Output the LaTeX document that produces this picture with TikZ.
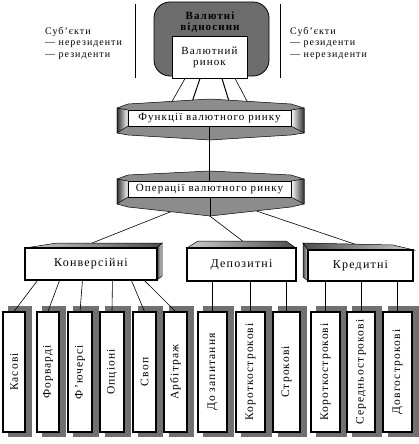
\documentclass[tikz,border=0pt]{standalone}
\usepackage{fontspec}
\setmainfont[LetterSpace=10]{Liberation Serif}
\usetikzlibrary{positioning,backgrounds}

\definecolor{panelgray}{RGB}{108,108,108}
\definecolor{shadowgray}{RGB}{112,112,112}
\definecolor{facegray}{RGB}{140,140,140}

\tikzset{
	whitebox/.style={draw=black, line width=1pt, fill=white, inner sep=0pt, align=center, font=\fontsize{11}{11}\selectfont},
	levelbox/.style={draw=black, line width=1.1pt, fill=white, inner sep=0pt, font=\fontsize{12}{12}\selectfont},
	leaf/.style={draw=black, line width=1.1pt, fill=white, inner sep=0pt, minimum height=120pt, font=\fontsize{11.5}{11.5}\selectfont},
	face/.style={fill=facegray, draw=black, line width=0.5pt},
	link/.style={draw=black, line width=0.6pt},
	sidetext/.style={anchor=north west, align=left, inner sep=0pt, font=\fontsize{10}{11.5}\selectfont}
}

\begin{document}
\begin{tikzpicture}[x=1pt,y=1pt,yscale=-1,xscale=1]
	\useasboundingbox (0,0) rectangle (418,444);

	%%TOP---------------------------------------------
	%%separators
	\draw [line width=0.8pt] (135,4) -- (135,78);
	\draw [line width=0.8pt] (280,4) -- (280,78);

	%%gray panel
	\draw [fill=panelgray, draw=black, line width=0.8pt, rounded corners=16pt] (154,2) rectangle (269,76);
	\node [align=center, inner sep=0pt, font=\bfseries\fontsize{11}{10.5}\selectfont] (vidnos) at (210,22) {Валютні\\відносини};
	\node [whitebox, minimum width=75pt, minimum height=41pt] (rynok) at (209.5,57.5) {Валютний\\ринок};

	% Text Node
	\node [sidetext] (subleft) at (45,27) {Суб’єкти\\— нерезиденти\\— резиденти};
	% Text Node
	\node [sidetext] (subright) at (290,27) {Суб’єкти\\— резиденти\\— нерезиденти};

	%%FUNCTIONS pillow---------------------------------
	\draw [face] (117,108) -- (128,104) -- (210,99) -- (291,104) -- (304,108) -- (304,133) -- (291,135) -- (210,140) -- (128,135) -- (117,133) -- cycle;
	\draw [left color=black!80, right color=white, draw=black, line width=0.5pt] (117,108) -- (128,110) -- (128,126) -- (117,133) -- cycle;
	\draw [left color=white, right color=black!80, draw=black, line width=0.5pt] (291,110) -- (304,108) -- (304,133) -- (291,126) -- cycle;
	\node [whitebox, minimum width=163pt, minimum height=16pt] (funk) at (209.5,118) {Функції валютного ринку};

	%%OPERATIONS pillow--------------------------------
	\draw [face] (117,179) -- (128,175) -- (210,171) -- (291,175) -- (304,179) -- (304,204) -- (291,207) -- (210,216) -- (128,207) -- (117,204) -- cycle;
	\draw [left color=black!80, right color=white, draw=black, line width=0.5pt] (117,179) -- (128,181) -- (128,197) -- (117,204) -- cycle;
	\draw [left color=white, right color=black!80, draw=black, line width=0.5pt] (291,181) -- (304,179) -- (304,204) -- (291,197) -- cycle;
	\draw [line width=0.6pt] (210,197) -- (210,216);
	\node [whitebox, minimum width=163pt, minimum height=16pt] (oper) at (209.5,189) {Операції валютного ринку};

	\draw [link, line width=1.3pt] (funk.south) -- (oper.north);

	%%LEVEL 3 boxes------------------------------------
	%top face
	\draw [left color=gray!40, right color=black!70, draw=black, line width=0.5pt] (25,248) -- (57,243) -- (162,243) -- (157,248) -- cycle;
	%right face
	\draw [left color=black!70, right color=gray!30, draw=black, line width=0.5pt] (157,248) -- (162,243) -- (162,276) -- (157,280) -- cycle;
	\node [levelbox, minimum width=132pt, minimum height=32pt] (konv) at (91,264) {Конверсійні};

	%top face
	\draw [left color=gray!40, right color=black!70, draw=black, line width=0.5pt] (187,248) -- (198,241) -- (286,241) -- (296,248) -- cycle;
	\node [levelbox, minimum width=109pt, minimum height=33pt] (depoz) at (241.5,264.5) {Депозитні};

	%left face
	\draw [left color=black!70, right color=gray!30, draw=black, line width=0.5pt] (308,250) -- (303,243) -- (303,277) -- (308,281) -- cycle;
	%top face
	\draw [left color=black!70, right color=gray!40, draw=black, line width=0.5pt] (303,243) -- (393,245) -- (414,250) -- (308,250) -- cycle;
	\node [levelbox, minimum width=105pt, minimum height=31pt] (kred) at (360.5,265.5) {Кредитні};

	%%links behind the shapes
	\begin{scope}[on background layer]
		\draw [link] ([xshift=-24.5pt]rynok.south) -- ([xshift=-42pt]funk.north);
		\draw [link, line width=1pt] ([xshift=-9.5pt]rynok.south) -- ([xshift=-20pt]funk.north);
		\draw [link, line width=1pt] ([xshift=12.5pt]rynok.south) -- ([xshift=22pt]funk.north);
		\draw [link] ([xshift=25.5pt]rynok.south) -- ([xshift=42pt]funk.north);

		\draw [link] ([xshift=-3pt]oper.south) -- ([xshift=-10pt]konv.north);
		\draw [link] ([xshift=-24pt]oper.south) -- ([xshift=9.5pt]depoz.north);
		\draw [link] ([xshift=7pt]oper.south) -- ([xshift=10pt]kred.north);
	\end{scope}

	%%LEAVES-------------------------------------------
	%%shadows
	\foreach \xa/\xb in {3/25,37/59,68/92,100/124,133/156,164/187,198/227,236/265,273/300,311/340,347/375,383/412}
		\fill [shadowgray] (\xa+5,306) rectangle (\xb+7,437);

	\node [leaf, minimum width=22pt] (kasovi) at (14,372) {\rotatebox{90}{Касові}};
	\node [leaf, minimum width=22pt] (forvard) at (48,372) {\rotatebox{90}{Форварді}};
	\node [leaf, minimum width=24pt] (fjuchers) at (80,372) {\rotatebox{90}{Ф’ючерсі}};
	\node [leaf, minimum width=24pt] (opcion) at (112,372) {\rotatebox{90}{Опціоні}};
	\node [leaf, minimum width=23pt] (svop) at (144.5,372) {\rotatebox{90}{Своп}};
	\node [leaf, minimum width=23pt] (arbitr) at (175.5,372) {\rotatebox{90}{Арбітраж}};

	\node [leaf, minimum width=29pt] (dozap) at (212.5,372) {\rotatebox{90}{До запитання}};
	\node [leaf, minimum width=29pt] (dkorot) at (250.5,372) {\rotatebox{90}{Короткострокові}};
	\node [leaf, minimum width=27pt] (strok) at (286.5,372) {\rotatebox{90}{Строкові}};

	\node [leaf, minimum width=29pt] (kkorot) at (325.5,372) {\rotatebox{90}{Короткострокові}};
	\node [leaf, minimum width=28pt] (seredn) at (361,372) {\rotatebox{90}{Середньострокові}};
	\node [leaf, minimum width=29pt] (dovgo) at (397.5,372) {\rotatebox{90}{Довгострокові}};

	%%links to leaves
	\draw [link] ([xshift=13pt]konv.south west) -- (kasovi.north);
	\draw [link] ([xshift=35pt]konv.south west) -- (forvard.north);
	\draw [link] ([xshift=58pt]konv.south west) -- (fjuchers.north);
	\draw [link] ([xshift=88pt]konv.south west) -- (opcion.north);
	\draw [link] ([xshift=107pt]konv.south west) -- (svop.north);
	\draw [link] ([xshift=120pt]konv.south west) -- (arbitr.north);

	\draw [link, line width=1.3pt] (dozap.north) -- (dozap.north |- depoz.south);
	\draw [link] (dkorot.north) -- (dkorot.north |- depoz.south);
	\draw [link] (strok.north) -- (strok.north |- depoz.south);

	\draw [link] (kkorot.north) -- (kkorot.north |- kred.south);
	\draw [link] (seredn.north) -- (seredn.north |- kred.south);
	\draw [link] (dovgo.north) -- (dovgo.north |- kred.south);

\end{tikzpicture}
\end{document}
